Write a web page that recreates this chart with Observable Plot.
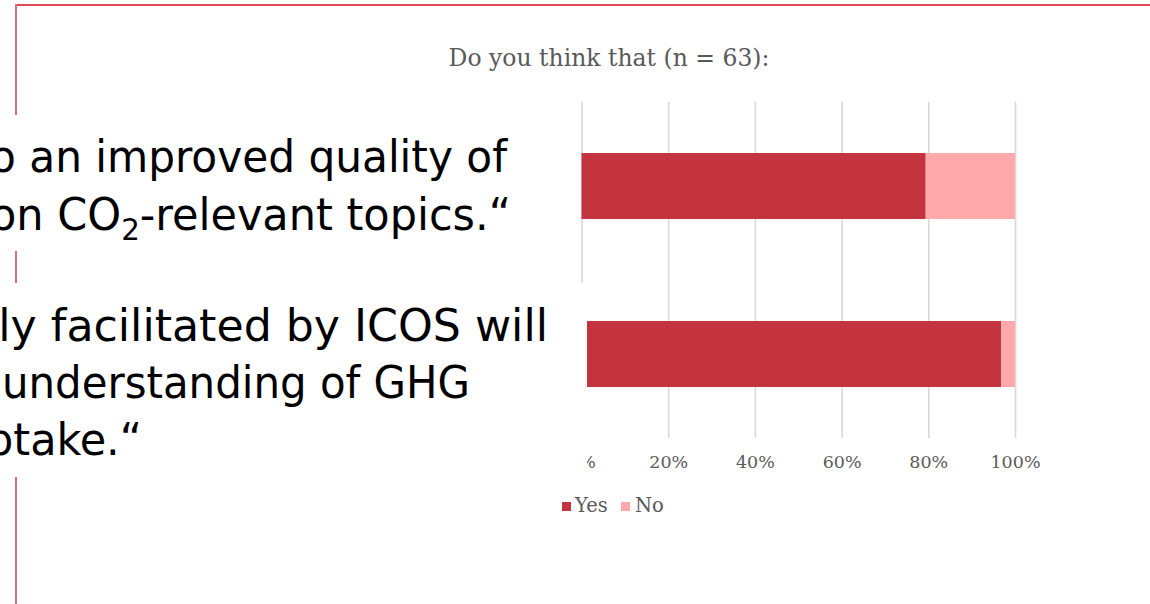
<!DOCTYPE html>
<html><head><meta charset="utf-8">
<script src="https://cdn.jsdelivr.net/npm/d3@7"></script>
<script src="https://cdn.jsdelivr.net/npm/@observablehq/plot@0.6"></script>
<style>
html,body{margin:0;padding:0;background:#fff;width:1150px;height:604px;overflow:hidden;}
body{position:relative;}
#frameTop{position:absolute;left:15px;top:4px;width:1135px;height:2px;background:#DB4A55;}
#frameLeft{position:absolute;left:15px;top:4px;width:2px;height:600px;background:#D6707C;}
#title{position:absolute;left:609px;top:44px;transform:translateX(-50%);white-space:nowrap;font-family:"DejaVu Serif",serif;font-size:23.5px;color:#595959;}
#chart{position:absolute;left:540px;top:90px;}
#legend{position:absolute;left:0;top:0;}
.sw{position:absolute;width:9px;height:9px;}
.lt{position:absolute;font-family:"DejaVu Serif",serif;font-size:19.5px;color:#595959;white-space:nowrap;}
#quotes{position:absolute;left:0;top:0;}
</style></head><body>
<div id="frameTop"></div><div id="frameLeft"></div>
<div id="title"></div>
<div id="chart"></div>
<div id="legend"></div>
<svg id="quotes" width="1150" height="604"></svg>
<script>
const questions = [
  "ICOS will contribute to an improved quality of scientific advice on CO2-relevant topics",
  "The data currently facilitated by ICOS will improve the understanding of GHG emissions and uptake"
];
const answers = ["Yes", "No"];
const yesShare = [79.4, 96.8];
const noShare = [20.6, 3.2];
const answerColors = ["#C3343F", "#FFA9AB"];
const xTicks = [0, 20, 40, 60, 80, 100];
const titleText = "Do you think that (n = 63):";
const quoteLines1 = ["o an improved quality of", ["on CO", "2", "-relevant topics.\u201C"]];
const quoteLines2 = ["tly facilitated by ICOS will", "understanding of GHG", "ptake.\u201C"];

document.getElementById("title").textContent = titleText;

const rows = [];
questions.forEach((q, i) => {
  rows.push({q, answer: answers[0], value: yesShare[i]});
  rows.push({q, answer: answers[1], value: noShare[i]});
});

const chart = Plot.plot({
  width: 520, height: 400,
  marginLeft: 41.5, marginRight: 45, marginTop: 12, marginBottom: 52,
  style: {fontFamily: "DejaVu Serif, serif", fontSize: "17.5px", color: "#595959", background: "transparent"},
  x: {domain: [0, 100], axis: null},
  y: {type: "band", domain: questions, paddingInner: 0.607, paddingOuter: 0.3035, axis: null},
  color: {domain: answers, range: answerColors},
  marks: [
    Plot.gridX(xTicks, {stroke: "#D9D9D9", strokeOpacity: 1, strokeWidth: 1.6}),
    Plot.barX(rows, Plot.stackX({x: "value", y: "q", fill: "answer"})),
    Plot.axisX(xTicks, {anchor: "bottom", tickSize: 0, tickPadding: 17, tickFormat: d => d + "%", fill: "#595959", fontSize: 17.5, label: null})
  ]
});
document.getElementById("chart").appendChild(chart);

// legend
const lg = document.getElementById("legend");
const legendPos = [[562, 575], [621, 635]];
answers.forEach((a, i) => {
  const s = document.createElement("div");
  s.className = "sw"; s.style.left = legendPos[i][0] + "px"; s.style.top = "502px";
  s.style.background = answerColors[i];
  lg.appendChild(s);
  const t = document.createElement("div");
  t.className = "lt"; t.style.left = legendPos[i][1] + "px"; t.style.top = "494px";
  t.textContent = a;
  lg.appendChild(t);
});

// overlapping slide text boxes
const svg = d3.select("#quotes");
svg.append("rect").attr("x", 0).attr("y", 115).attr("width", 578).attr("height", 136).attr("fill", "#fff");
svg.append("rect").attr("x", 0).attr("y", 283).attr("width", 587).attr("height", 194).attr("fill", "#fff");
const font = "DejaVu Sans Condensed";
function line(content, x0, x1, yb) {
  const t = svg.append("text").attr("x", x0).attr("y", yb)
    .attr("font-family", font).attr("font-size", 44).attr("fill", "#000")
    .attr("textLength", x1 - x0).attr("lengthAdjust", "spacingAndGlyphs");
  if (Array.isArray(content)) {
    t.append("tspan").text(content[0]);
    t.append("tspan").attr("font-size", 30).attr("dy", 10).text(content[1]);
    t.append("tspan").attr("dy", -10).text(content[2]);
  } else t.text(content);
}
line(quoteLines1[0], -10, 507, 172);
line(quoteLines1[1], -10, 511, 230);
line(quoteLines2[0], -19, 548, 341);
line(quoteLines2[1], 2, 470, 398);
line(quoteLines2[2], -14, 142, 455);
</script>
</body></html>
